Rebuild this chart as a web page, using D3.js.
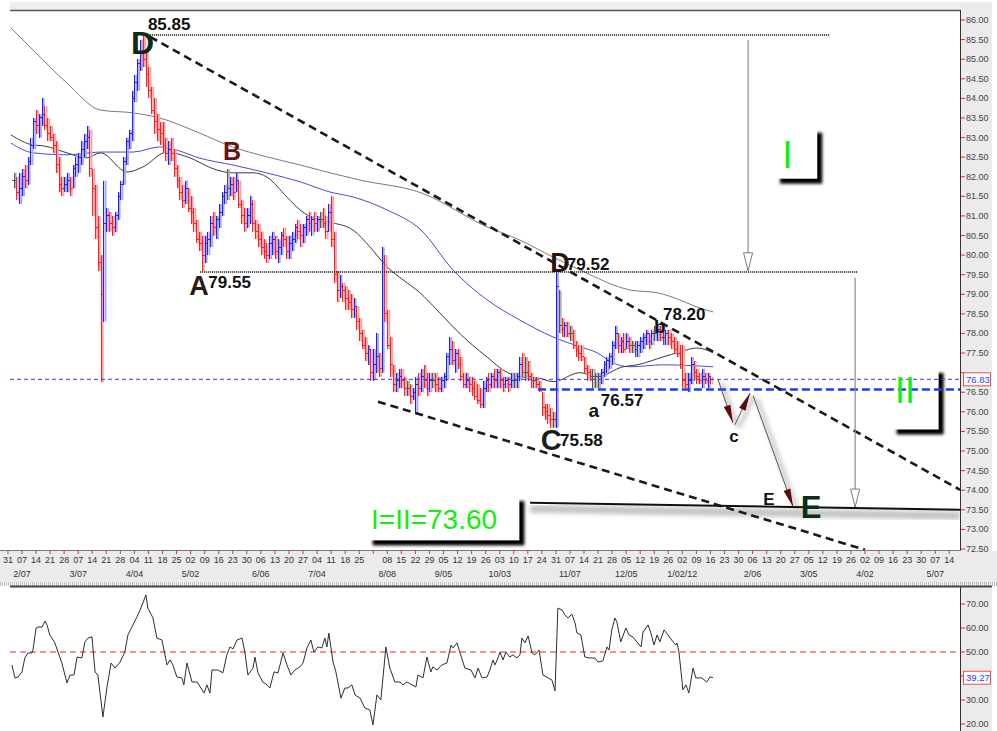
<!DOCTYPE html>
<html>
<head>
<meta charset="utf-8">
<script src="https://cdn.jsdelivr.net/npm/d3@7"></script>
<style>
  body { margin: 0; background: #fff; }
  text { font-family: "Liberation Sans", Arial, sans-serif; }
</style>
</head>
<body>
<div id="chart"></div>
<script>
// bar index = business day counted from Mon 31 Jan 2011
const firstBar = 2;

const highs = [
  82.1,82.0,82.1,82.2,82.3,82.5,83.0,83.5,83.7,83.6,
  84.0,83.8,83.5,83.3,83.1,82.9,82.5,82.0,82.0,82.1,
  82.0,82.3,82.5,82.6,82.9,83.1,83.3,83.2,82.2,81.8,
  81.0,80.0,81.9,81.2,81.1,81.0,81.1,81.6,81.9,82.5,
  83.0,83.2,84.2,84.6,85.0,85.5,85.6,85.2,84.8,84.3,
  84.0,83.6,83.4,83.4,83.0,82.9,83.0,82.7,82.3,82.0,
  81.8,81.9,81.7,81.5,81.2,80.9,80.6,80.5,80.5,80.6,
  81.0,81.1,81.0,81.3,81.6,81.8,82.2,82.0,82.0,82.1,
  81.9,81.4,81.2,81.2,81.5,81.4,80.9,80.8,80.6,80.4,
  80.3,80.5,80.6,80.5,80.4,80.6,80.7,80.5,80.5,80.6,
  80.8,80.9,80.8,80.8,81.0,81.1,81.0,81.1,81.0,81.1,
  81.2,81.0,81.3,81.5,80.6,79.6,79.5,79.3,79.2,79.1,
  79.0,78.9,78.7,78.4,78.1,77.9,77.7,77.6,77.6,78.0,
  77.5,80.2,80.0,78.6,77.9,77.2,77.0,77.1,77.1,76.9,
  76.8,76.7,76.6,76.9,77.0,77.1,77.2,77.0,77.0,77.0,
  77.0,76.9,76.9,77.0,77.5,77.9,77.8,77.6,77.6,77.4,
  77.0,77.0,76.9,76.9,76.8,76.7,76.6,76.8,76.9,77.0,
  77.0,77.1,77.1,77.1,76.9,76.9,76.9,77.0,77.0,77.0,
  77.4,77.5,77.4,77.3,77.0,76.9,76.9,76.8,76.5,76.2,
  76.2,76.1,76.0,79.55,79.1,78.4,78.3,78.3,78.2,78.1,
  77.8,77.7,77.7,77.4,77.2,77.1,77.1,77.0,77.0,77.1,
  77.3,77.4,77.5,77.8,78.2,78.0,77.9,78.0,78.0,77.9,
  77.8,77.8,77.8,77.9,78.0,78.1,78.0,78.1,78.2,78.2,
  78.2,78.1,78.1,78.1,78.0,77.9,77.8,77.7,77.7,77.0,
  77.0,77.4,77.3,77.1,77.0,77.1,77.0,77.0,76.9
];
const lows = [
  81.7,81.4,81.3,81.5,81.7,81.8,82.3,82.7,83.1,83.0,
  83.3,83.2,82.9,82.9,82.6,82.1,81.6,81.5,81.6,81.6,
  81.5,81.7,82.0,82.1,82.3,82.5,82.7,82.0,81.0,80.4,
  79.6,76.75,78.3,80.6,80.6,80.5,80.6,80.9,81.4,81.8,
  82.3,82.7,82.9,83.9,84.2,84.7,84.8,84.3,84.0,83.6,
  83.1,82.9,82.8,82.6,82.4,82.3,82.4,82.0,81.7,81.4,
  81.2,81.3,81.1,80.8,80.6,80.3,80.1,79.6,79.8,80.0,
  80.2,80.5,80.4,80.7,81.0,81.3,81.4,81.5,81.4,81.6,
  81.2,80.8,80.6,80.7,80.8,80.6,80.4,80.2,80.0,79.9,
  79.8,79.9,80.0,79.9,79.8,80.0,80.2,79.9,79.9,80.1,
  80.3,80.4,80.2,80.3,80.5,80.6,80.5,80.6,80.6,80.7,
  80.7,80.4,80.6,80.2,79.3,78.8,78.9,78.8,78.6,78.6,
  78.4,78.4,78.1,77.8,77.6,77.3,77.2,76.8,76.8,77.0,
  76.9,77.0,78.3,77.6,76.9,76.5,76.5,76.6,76.6,76.4,
  76.4,76.2,76.3,75.95,76.4,76.5,76.6,76.4,76.5,76.6,
  76.5,76.5,76.5,76.6,76.8,77.2,77.2,77.0,77.1,76.8,
  76.6,76.6,76.5,76.4,76.3,76.2,76.1,76.1,76.5,76.5,
  76.6,76.6,76.6,76.6,76.5,76.6,76.5,76.6,76.6,76.6,
  76.8,76.9,76.8,76.8,76.6,76.6,76.6,76.5,75.9,75.8,
  75.7,75.6,75.6,75.6,78.0,77.9,77.9,77.9,77.8,77.6,
  77.4,77.3,77.3,77.0,76.8,76.8,76.6,76.6,76.6,76.7,
  76.9,77.0,77.1,77.2,77.6,77.5,77.5,77.5,77.6,77.5,
  77.5,77.4,77.4,77.5,77.6,77.7,77.6,77.7,77.8,77.8,
  77.8,77.7,77.7,77.7,77.6,77.5,77.4,77.1,76.6,76.6,
  76.5,76.7,76.8,76.7,76.7,76.6,76.7,76.6,76.7
];
const closes = [
  81.9,81.6,81.7,82.0,81.9,82.4,82.8,83.4,83.3,83.5,
  83.6,83.3,83.1,83.0,82.8,82.3,81.8,81.7,81.8,81.9,
  81.7,82.2,82.3,82.5,82.7,82.9,83.0,82.2,81.7,80.7,
  79.8,79.0,80.8,81.0,80.8,80.7,81.0,81.5,81.8,82.4,
  82.9,83.1,84.0,84.4,84.9,85.2,85.0,84.6,84.2,83.7,
  83.4,83.2,83.1,82.8,82.6,82.7,82.6,82.2,81.9,81.6,
  81.4,81.7,81.2,81.1,80.8,80.4,80.3,80.0,80.3,80.4,
  80.8,80.7,80.9,81.1,81.5,81.6,81.7,81.8,81.6,81.9,
  81.3,81.0,80.8,81.0,81.3,80.8,80.6,80.4,80.2,80.1,
  80.0,80.3,80.4,80.1,80.2,80.5,80.4,80.1,80.3,80.4,
  80.7,80.6,80.5,80.7,80.9,80.8,80.9,80.8,80.9,80.9,
  80.8,80.6,81.1,80.4,79.5,79.1,79.2,79.1,78.9,78.8,
  78.6,78.7,78.3,78.0,77.7,77.5,77.6,77.0,77.2,77.4,
  77.1,79.8,78.5,77.7,77.2,76.7,76.8,76.9,76.8,76.6,
  76.6,76.4,76.5,76.7,76.6,76.9,76.8,76.6,76.8,76.8,
  76.7,76.6,76.8,76.9,77.4,77.6,77.3,77.5,77.2,76.9,
  76.7,76.8,76.7,76.6,76.4,76.3,76.2,76.6,76.8,76.7,
  76.9,76.8,77.0,76.8,76.7,76.8,76.7,76.8,76.8,76.9,
  77.2,77.0,77.0,76.9,76.8,76.8,76.7,76.6,76.1,76.0,
  75.9,75.8,75.8,79.2,78.2,78.1,78.2,78.0,78.0,77.7,
  77.6,77.5,77.4,77.1,77.0,76.9,76.9,76.9,76.9,77.0,
  77.2,77.3,77.4,77.7,78.0,77.7,77.8,77.6,77.8,77.7,
  77.7,77.6,77.7,77.8,77.9,78.0,77.8,78.0,78.0,78.1,
  77.9,77.9,78.0,77.9,77.8,77.6,77.5,77.2,76.8,76.7,
  76.8,77.2,77.0,76.9,76.8,76.9,76.8,76.9,76.83
];
const grayBars = [2, 78, 196, 223];

// moving averages: [bar index, price]
const maLong = [[1,85.80],[9,85.23],[21,84.39],[33,83.70],[44.5,83.63],[54,83.50],[68,83.12],[80,82.76],
  [92,82.51],[104,82.30],[114.6,82.10],[125,81.92],[147,81.59],[170.5,80.72],[182,80.39],[194,79.95],
  [203.6,79.62],[221.4,79.11],[231,79.04],[239,78.86],[245,78.68],[251,78.55]];
const maMid = [[1,82.86],[9,82.61],[21,82.56],[33,82.63],[44.5,82.63],[54,82.76],[60,82.68],[68,82.48],
  [80,82.30],[92,82.10],[104,81.87],[114.6,81.61],[123,81.48],[135,81.15],[147,80.64],[158.4,79.62],
  [170.5,78.86],[182,78.35],[194,77.91],[203.6,77.66],[209.6,77.51],[215.3,77.25],[221.4,77.15],
  [233,77.20],[251,77.15]];
const maShort = [[1,83.07],[9,82.81],[12.5,82.79],[21,82.61],[28,82.48],[33,82.61],[42.4,82.12],[48,82.25],
  [56.6,82.63],[63.7,82.51],[74.4,82.17],[80,82.10],[87.2,82.10],[92.2,81.99],[99.3,81.48],[104,81.15],
  [110,80.90],[115.7,80.82],[122.8,80.64],[128.8,80.21],[134.9,79.70],[140.6,79.37],[146.6,79.04],
  [152.7,78.60],[158.4,78.17],[164.4,77.76],[170.5,77.40],[176.2,77.07],[182.2,76.89],[188.3,76.87],
  [194,76.77],[203.6,77.00],[209.6,76.89],[218.9,77.15],[223.9,77.20],[233.1,77.40],[239.2,77.53],
  [245.2,77.63],[250.9,77.51]];

// oscillator (lower panel): [bar index, value]
const rsi = [[1.4,44.6],[2.5,39.2],[3.6,39.6],[5,41.7],[6,47.5],[7.1,49.6],[8.5,49.6],[8.9,50.8],[10,60],
  [10.7,60.4],[12.1,60.4],[13.2,62.9],[13.9,61.3],[14.9,57.1],[16.7,53.8],[17.8,50],[19.2,45.4],[21,37.1],
  [22.1,40.4],[23.5,40.4],[24.6,47.9],[26.3,47.5],[27.4,54.2],[28.5,55.8],[29.9,56.3],[31,41.7],[32,40.4],
  [33.8,22.9],[35.2,35],[36.7,45.4],[38.1,43.3],[39.9,45.8],[41.6,50],[42.7,57.1],[44.1,60.4],[45.9,64.6],
  [47,67.5],[48,70.4],[49.1,73.8],[49.8,68.3],[51.6,64.2],[53,55.8],[54.8,55],[56.6,44.6],[57.7,46.7],
  [58.7,44.6],[60.1,39.6],[61.9,39.2],[62.6,36.3],[63.7,45.4],[65.5,37.5],[67.3,37.5],[69.8,32.9],
  [70.8,36.3],[71.9,32.9],[72.6,42.5],[74.7,42.5],[76.5,41.3],[77.9,48.8],[79,52.1],[80.1,51.3],[81.5,55],
  [83.3,55.8],[84.3,50],[85.4,40.4],[87.2,43.3],[87.9,47.9],[89,41.3],[90.7,37.5],[92.2,36.3],[93.2,35],
  [94.7,41.7],[96.1,41.3],[97.9,49.6],[99.3,44.6],[100.7,40.4],[102.1,42.5],[103.9,43.8],[105,45.4],
  [106.4,51.7],[107.8,55],[108.9,50],[110.3,52.1],[111.7,51.7],[112.8,55.8],[113.5,52.1],[114.2,57.9],
  [115.7,45.8],[116.7,41.7],[118.5,30.8],[119.9,35],[121,35],[122.4,36.3],[123.5,32.1],[125.3,30.8],
  [127,26.7],[128.8,25.8],[129.9,19.6],[131.3,32.1],[132.7,30],[134.5,52.1],[135.9,43.3],[137.7,37.5],
  [139.5,37.5],[140.6,36.3],[142,37.5],[143.8,36.3],[145.2,35.4],[145.9,40.4],[147.7,39.2],[149.1,47.9],
  [150.5,41.7],[151.2,43.8],[152.7,42.5],[154.4,44.6],[156.2,45.4],[157.7,52.9],[158.4,51.7],[159.8,53.8],
  [160.9,49.6],[162.6,43.3],[164.8,42.5],[166.2,39.2],[167.3,43.3],[168.7,39.2],[170.5,39.6],[171.5,42.5],
  [172.6,46.7],[173.3,44.6],[174.4,47.5],[175.1,50],[176.2,46.7],[177.2,50],[178.6,47.9],[179.7,48.8],
  [181.1,47.5],[182.2,48.8],[182.9,55.8],[184,53.8],[185.1,56.7],[186.5,49.6],[187.5,48.8],[189,50.8],
  [190.4,40.4],[192.2,39.2],[193.6,38.3],[194.7,33.8],[195.7,68.3],[197.2,67.5],[198.2,65.4],[199.3,64.2],
  [200.7,65.8],[201.8,62.1],[202.5,57.9],[203.9,57.1],[205.3,47.9],[207.1,47.5],[208.9,47.5],[210,45.8],
  [211.7,46.3],[213.2,52.1],[213.9,50.8],[214.9,59.2],[216,64.2],[216.7,62.5],[218.1,54.2],[219.9,60],
  [221,57.1],[222.4,56.3],[223.8,54.2],[225.3,52.1],[226,58.3],[227.8,61.3],[228.8,57.9],[229.9,52.9],
  [231,57.1],[232,54.2],[233.5,59.2],[234.9,57.1],[236.7,54.2],[237.7,52.9],[238.1,53.8],[238.8,50],
  [240.2,34.2],[241.3,36.3],[242.3,32.9],[243.8,43.3],[244.8,39.2],[246.9,39.2],[248.7,37.5],[249.8,39.6],
  [250.9,39.3]];

const lastPrice = 76.83;
const lastRsi = 39.27;
const rsiMid = 50;
const priceTicks = d3.range(72.5, 86.001, 0.5);
const rsiTicks = [20, 30, 40, 50, 60, 70];
const monthLabels = ["2/07","3/07","4/04","5/02","6/06","7/04","8/08","9/05","10/03","11/07","12/05","1/02/12","2/06","3/05","4/02","5/07"];
const monthWeeks = [1,5,9,13,18,22,27,31,35,40,44,48,53,57,61,66];
const unlabelledWeeks = [26];

// drawn annotations, [bar index, price]
const topLevel = [[50.6,85.62],[292.5,85.62]];
const aLevel = [[68.4,79.57],[302.5,79.57]];
const upperTrend = [[50.6,85.57],[338.8,74.01]];
const lowerTrend = [[131.7,76.26],[305.0,72.48]];
const eLine = [[185.8,73.68],[338.8,73.50]];
const supportLevel = [[188.6,76.57],[340,76.57]];
const arrowI = [[263.4,85.49],[263.4,79.60]];
const arrowII = [[301.5,79.42],[301.5,73.57]];
const projection = [
  [[252.7,76.82],[258.0,75.72]],
  [[258.7,75.67],[264.1,76.48]],
  [[265.2,76.41],[279.4,73.58]]
];

const W = 997, H = 731;
const svg = d3.select("#chart").append("svg").attr("width", W).attr("height", H);
const defs = svg.append("defs");
defs.append("clipPath").attr("id", "clipMain").append("rect")
  .attr("x", 10).attr("y", 11).attr("width", 950).attr("height", 539);
defs.append("clipPath").attr("id", "clipLow").append("rect")
  .attr("x", 10).attr("y", 588).attr("width", 950).attr("height", 143);
defs.append("filter").attr("id", "blur").attr("x", "-20%").attr("y", "-20%").attr("width", "140%").attr("height", "140%")
  .append("feGaussianBlur").attr("stdDeviation", 1.6);
defs.append("filter").attr("id", "blur2").attr("x", "-20%").attr("y", "-50%").attr("width", "140%").attr("height", "200%")
  .append("feGaussianBlur").attr("stdDeviation", 2.2);

var x = d3.scaleLinear().domain([0, 335]).range([7.95, 7.95 + 335 * 2.81]);
var y = d3.scaleLinear().domain([72.5, 86]).range([549, 20]);
var yR = d3.scaleLinear().domain([20, 70]).range([724, 604]);

// background panels
svg.append("rect").attr("width", W).attr("height", H).attr("fill", "#fff");
svg.append("rect").attr("x", 10).attr("y", 2).attr("width", 982).attr("height", 9).attr("fill", "#eeeeee");
svg.append("rect").attr("x", 961).attr("y", 2).attr("width", 31).attr("height", 582).attr("fill", "#ebebeb");
svg.append("rect").attr("x", 0).attr("y", 551).attr("width", W).attr("height", 31).attr("fill", "#ebebeb");
svg.append("rect").attr("x", 961).attr("y", 588).attr("width", 31).attr("height", 143).attr("fill", "#ebebeb");
svg.append("line").attr("x1", 0).attr("x2", W).attr("y1", 584).attr("y2", 584)
  .attr("stroke", "#bdbdbd").attr("stroke-width", 4).attr("stroke-dasharray", "1,1");

const main = svg.append("g").attr("clip-path", "url(#clipMain)");
const px = d => [x(d[0]), y(d[1])];

// white boxes with dark drop shadow
function shadowBox(g, i0, p0, i1, p1) {
  const x0 = x(i0), x1 = x(i1), y0 = y(p0), y1 = y(p1);
  g.append("rect").attr("x", x0 + 5).attr("y", y0 + 5).attr("width", x1 - x0).attr("height", y1 - y0)
    .attr("fill", "#000").attr("filter", "url(#blur)");
  g.append("rect").attr("x", x0).attr("y", y0).attr("width", x1 - x0).attr("height", y1 - y0).attr("fill", "#fff");
}
shadowBox(main, 273.0, 83.25, 288.0, 81.95);
shadowBox(main, 314.5, 77.12, 331.2, 75.55);
shadowBox(main, 128.0, 73.85, 182.0, 72.72);

// soft grey shadows of the drawn tools
function softLine(g, pts, dx, dy, w, col) {
  g.append("line").attr("x1", x(pts[0][0]) + dx).attr("y1", y(pts[0][1]) + dy)
    .attr("x2", x(pts[1][0]) + dx).attr("y2", y(pts[1][1]) + dy)
    .attr("stroke", col).attr("stroke-width", w).attr("filter", "url(#blur2)");
}
softLine(main, topLevel, 0, 5, 7, "#cfcfcf");
softLine(main, aLevel, 0, 5, 7, "#cfcfcf");
softLine(main, eLine, 0, 6, 8, "#c4c4c4");
softLine(main, arrowI, 7, 3, 8, "#d8d8d8");
softLine(main, arrowII, 7, 3, 8, "#d8d8d8");
projection.forEach(seg => softLine(main, seg, 4, 3, 4, "#c8c8c8"));

// moving averages
const maLine = d3.line().x(d => x(d[0])).y(d => y(d[1])).curve(d3.curveMonotoneX);
main.append("path").attr("d", maLine(maLong)).attr("fill", "none").attr("stroke", "#7a7a7a").attr("stroke-width", 1);
main.append("path").attr("d", maLine(maMid)).attr("fill", "none").attr("stroke", "#4a4ad8").attr("stroke-width", 1);
main.append("path").attr("d", maLine(maShort)).attr("fill", "none").attr("stroke", "#3c3c3c").attr("stroke-width", 1);

// price bars
const bars = closes.map((c, j) => {
  const i = firstBar + j;
  const o = j > 0 ? closes[j - 1] : c;
  let col = c > o ? "up" : (c < o ? "down" : "flat");
  if (grayBars.includes(i)) col = "flat";
  return { i: i, o: o, h: highs[j], l: lows[j], c: c, col: col };
});
const solid = { up: "#1f1fff", down: "#ff1f1f", flat: "#555555" };
const pale = { up: "#a8a8f4", down: "#f6a4a4", flat: "#b4b4b4" };

main.append("g").selectAll("rect").data(bars).enter().append("rect")
  .attr("x", d => x(d.i) + 1).attr("width", 2)
  .attr("y", d => y(d.h)).attr("height", d => y(d.l) - y(d.h))
  .attr("fill", d => pale[d.col]);
const barG = main.append("g").attr("stroke-width", 1).attr("shape-rendering", "crispEdges");
barG.selectAll("line.hl").data(bars).enter().append("line")
  .attr("x1", d => Math.round(x(d.i)) + 0.5).attr("x2", d => Math.round(x(d.i)) + 0.5)
  .attr("y1", d => y(d.h)).attr("y2", d => y(d.l)).attr("stroke", d => solid[d.col]);
barG.selectAll("line.op").data(bars).enter().append("line")
  .attr("x1", d => Math.round(x(d.i)) - 2).attr("x2", d => Math.round(x(d.i)))
  .attr("y1", d => y(d.o)).attr("y2", d => y(d.o)).attr("stroke", d => solid[d.col]);
barG.selectAll("line.cl").data(bars).enter().append("line")
  .attr("x1", d => Math.round(x(d.i)) + 1).attr("x2", d => Math.round(x(d.i)) + 3)
  .attr("y1", d => y(d.c)).attr("y2", d => y(d.c)).attr("stroke", d => solid[d.col]);

// horizontal guide lines
main.append("line").attr("x1", 10).attr("x2", 960).attr("y1", y(lastPrice)).attr("y2", y(lastPrice))
  .attr("stroke", "#3a3ad6").attr("stroke-width", 1).attr("stroke-dasharray", "4,3");
main.append("line").attr("x1", x(supportLevel[0][0])).attr("x2", x(supportLevel[1][0]))
  .attr("y1", y(supportLevel[0][1])).attr("y2", y(supportLevel[1][1]))
  .attr("stroke", "#2238ff").attr("stroke-width", 2.5).attr("stroke-dasharray", "8,4");

function seg(g, pts, col, w, dash) {
  const a = px(pts[0]), b = px(pts[1]);
  const l = g.append("line").attr("x1", a[0]).attr("y1", a[1]).attr("x2", b[0]).attr("y2", b[1])
    .attr("stroke", col).attr("stroke-width", w);
  if (dash) l.attr("stroke-dasharray", dash);
  return l;
}
seg(main, topLevel, "#3a3a3a", 2, "1,1");
seg(main, aLevel, "#3a3a3a", 2, "1,1");
seg(main, upperTrend, "#1a1a1a", 2.6, "8,5");
seg(main, lowerTrend, "#1a1a1a", 2.6, "8,5");
seg(main, eLine, "#111", 2);

function arrowHead(g, a, b, len, wid, fill, stroke) {
  const ang = Math.atan2(b[1] - a[1], b[0] - a[0]);
  const bx = b[0] - len * Math.cos(ang), by = b[1] - len * Math.sin(ang);
  const ox = -Math.sin(ang) * wid / 2, oy = Math.cos(ang) * wid / 2;
  g.append("polygon")
    .attr("points", [[b[0], b[1]], [bx + ox, by + oy], [bx - ox, by - oy]].map(p => p.join(",")).join(" "))
    .attr("fill", fill).attr("stroke", stroke || "none").attr("stroke-width", 1);
}
[arrowI, arrowII].forEach(pts => {
  seg(main, pts, "#8c8c8c", 1.2);
  arrowHead(main, px(pts[0]), px(pts[1]), 18, 9, "#fff", "#7c7c7c");
});
projection.forEach(pts => {
  seg(main, pts, "#555", 1);
  arrowHead(main, px(pts[0]), px(pts[1]), 18, 7, "#5c0c0c");
});

// letters and prices
const notes = [
  { t: "D", i: 47.9, p: 85.13, s: 32, c: "#0c2a14", a: "middle" },
  { t: "85.85", i: 49.8, p: 85.74, s: 17, c: "#111", a: "start" },
  { t: "B", i: 79.7, p: 82.43, s: 25, c: "#6a1212", a: "middle" },
  { t: "A", i: 68.0, p: 78.98, s: 27, c: "#2a1a12", a: "middle" },
  { t: "79.55", i: 71.3, p: 79.16, s: 17, c: "#111", a: "start" },
  { t: "D", i: 196.5, p: 79.57, s: 27, c: "#2a1208", a: "middle" },
  { t: "79.52", i: 198.9, p: 79.62, s: 17, c: "#111", a: "start" },
  { t: "C", i: 193.3, p: 75.03, s: 29, c: "#1c1c1c", a: "middle" },
  { t: "75.58", i: 196.5, p: 75.13, s: 17, c: "#111", a: "start" },
  { t: "a", i: 208.5, p: 75.86, s: 19, c: "#111", a: "middle" },
  { t: "76.57", i: 211.0, p: 76.14, s: 17, c: "#111", a: "start" },
  { t: "b", i: 232.0, p: 78.01, s: 19, c: "#111", a: "middle" },
  { t: "78.20", i: 233.1, p: 78.35, s: 17, c: "#111", a: "start" },
  { t: "c", i: 258.4, p: 75.23, s: 17, c: "#111", a: "middle" },
  { t: "E", i: 270.8, p: 73.62, s: 17, c: "#151515", a: "middle" },
  { t: "E", i: 285.8, p: 73.29, s: 31, c: "#0e2e14", a: "middle" }
];
main.append("g").selectAll("text").data(notes).enter().append("text")
  .attr("x", d => x(d.i)).attr("y", d => y(d.p)).attr("text-anchor", d => d.a)
  .attr("font-size", d => d.s).attr("font-weight", "bold").attr("fill", d => d.c).text(d => d.t);

const green = [
  { t: "I", i: 277.4, p: 82.22, s: 38 },
  { t: "II", i: 319.2, p: 76.23, s: 36 },
  { t: "I=II=73.60", i: 129.2, p: 73.01, s: 28 }
];
main.append("g").selectAll("text").data(green).enter().append("text")
  .attr("x", d => x(d.i)).attr("y", d => y(d.p))
  .attr("text-anchor", d => d.t.length < 3 ? "middle" : "start")
  .attr("font-size", d => d.s).attr("fill", "#0ef00e").text(d => d.t);

// frame lines
svg.append("line").attr("x1", 10).attr("x2", 961).attr("y1", 10.5).attr("y2", 10.5).attr("stroke", "#555").attr("stroke-width", 1.5);
svg.append("line").attr("x1", 960.5).attr("x2", 960.5).attr("y1", 10).attr("y2", 551).attr("stroke", "#333");
svg.append("line").attr("x1", 0).attr("x2", 961).attr("y1", 550.5).attr("y2", 550.5).attr("stroke", "#777");
svg.append("line").attr("x1", 10).attr("x2", 992).attr("y1", 586.5).attr("y2", 586.5).attr("stroke", "#444").attr("stroke-width", 2);
svg.append("line").attr("x1", 960.5).attr("x2", 960.5).attr("y1", 587).attr("y2", H).attr("stroke", "#333");

// value boxes on the right axes hide the tick label beneath them
function axisLabels(g, ticks, scale, boxValue) {
  g.selectAll("line").data(ticks).enter().append("line")
    .attr("x1", 961).attr("x2", 965).attr("y1", d => scale(d)).attr("y2", d => scale(d)).attr("stroke", "#e03030");
  g.selectAll("text").data(ticks.filter(d => Math.abs(scale(d) - scale(boxValue)) > 9)).enter().append("text")
    .attr("x", 966).attr("y", d => scale(d) + 3).attr("font-size", 9).attr("fill", "#444")
    .text(d => d3.format(".2f")(d));
}
function valueBox(yy, label) {
  svg.append("rect").attr("x", 963.5).attr("y", yy - 6.5).attr("width", 27).attr("height", 13)
    .attr("fill", "#fff").attr("stroke", "#e85050");
  svg.append("text").attr("x", 966).attr("y", yy + 3.5).attr("font-size", 9.5).attr("fill", "#3040ff").text(label);
}
axisLabels(svg.append("g"), priceTicks, y, lastPrice);
valueBox(y(lastPrice), d3.format(".2f")(lastPrice));

// bottom date axis
const mondays = d3.utcMonday.range(new Date(Date.UTC(2011, 0, 31)), new Date(Date.UTC(2012, 4, 15)));
const xAxis = svg.append("g");
xAxis.selectAll("line").data(mondays).enter().append("line")
  .attr("x1", (d, k) => x(k * 5)).attr("x2", (d, k) => x(k * 5)).attr("y1", 551).attr("y2", 554)
  .attr("stroke", "#e03030");
xAxis.selectAll("text.day").data(mondays).enter().append("text")
  .filter((d, k) => !unlabelledWeeks.includes(k))
  .attr("x", d => x(mondays.indexOf(d) * 5)).attr("y", 563).attr("text-anchor", "middle")
  .attr("font-size", 9).attr("fill", "#333").text(d3.utcFormat("%d"));
xAxis.selectAll("text.mon").data(monthLabels).enter().append("text")
  .attr("x", (d, k) => x(monthWeeks[k] * 5)).attr("y", 577).attr("text-anchor", "middle")
  .attr("font-size", 9).attr("fill", "#333").text(d => d);

// lower panel oscillator
const low = svg.append("g").attr("clip-path", "url(#clipLow)");
low.append("line").attr("x1", 10).attr("x2", 960).attr("y1", yR(rsiMid)).attr("y2", yR(rsiMid))
  .attr("stroke", "#ff6a6a").attr("stroke-width", 1.5).attr("stroke-dasharray", "6,4");
low.append("path").attr("d", d3.line().x(d => x(d[0])).y(d => yR(d[1]))(rsi))
  .attr("fill", "none").attr("stroke", "#2e2e2e").attr("stroke-width", 1);

axisLabels(svg.append("g"), rsiTicks, yR, lastRsi);
valueBox(yR(lastRsi), d3.format(".2f")(lastRsi));
</script>
</body>
</html>
